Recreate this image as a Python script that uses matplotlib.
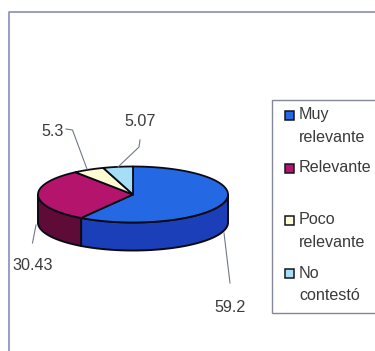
import numpy as np
import matplotlib
matplotlib.use("Agg")
import matplotlib.pyplot as plt
from matplotlib.patches import Polygon, Rectangle

categories = ["Muy\nrelevante", "Relevante", "Poco\nrelevante", "No\ncontestó"]
values = [59.2, 30.43, 5.3, 5.07]
value_labels = ["59.2", "30.43", "5.3", "5.07"]

top_colors = ["#2468E4", "#B4146C", "#FFFBD2", "#A6DEF8"]
side_colors = ["#1A3FB8", "#5E0B38", "#C9C49A", "#7FAFC6"]
text_color = "#3A3A3A"
frame_color = "#9094C4"
leader_color = "#70788A"

CX, CY, RX, RY, DEPTH = 133, 194.5, 95, 28, 28
FS = 11.6
plt.rcParams["font.family"] = ["Liberation Sans", "DejaVu Sans"]

fig = plt.figure(figsize=(3.75, 3.51), dpi=100, facecolor="white")
ax = fig.add_axes([0, 0, 1, 1])
ax.set_xlim(0, 375)
ax.set_ylim(351, 0)
ax.axis("off")


def rim(a0, a1, dy=0.0, n=90):
    t = np.radians(np.linspace(a0, a1, n))
    return np.column_stack([CX + RX * np.sin(t), CY + dy - RY * np.cos(t)])


edges = np.concatenate([[0], np.cumsum(values)]) / np.sum(values) * 360

# walls: only the part of each slice facing the viewer (90-270 deg clockwise from top)
for i in range(len(values)):
    a0, a1 = max(edges[i], 90), min(edges[i + 1], 270)
    if a1 > a0:
        front = rim(a0, a1)
        back = rim(a1, a0, DEPTH)
        ax.add_patch(Polygon(np.vstack([front, back]), closed=True, fc=side_colors[i],
                             ec="#0A0A14", lw=1.4, zorder=2))

# top faces
for i in range(len(values)):
    pts = np.vstack([[[CX, CY]], rim(edges[i], edges[i + 1])])
    ax.add_patch(Polygon(pts, closed=True, fc=top_colors[i], ec="#0A0A14", lw=1.3,
                         joinstyle="round", zorder=3))

# outer frame
ax.plot([375, 8.5, 8.5], [12, 12, 351], color=frame_color, lw=1.3, zorder=1)

# leader lines + value labels
leaders = [
    ([224, 230], [233, 283]),
    ([36, 32.5], [225, 243]),
    ([66, 72.5, 87], [129, 130, 169]),
    ([118, 139, 140], [167, 147, 140]),
]
label_xy = [(230, 307), (33, 265), (53, 132), (140, 122)]
for (lx, ly), txt, (tx, ty) in zip(leaders, value_labels, label_xy):
    ax.plot(lx, ly, color=leader_color, lw=0.8, zorder=4)
    ax.text(tx, ty, txt, ha="center", va="center", fontsize=FS, color=text_color, zorder=5)

# legend
ax.add_patch(Rectangle((272, 100), 110, 213, fc="white", ec="#85879A", lw=1.0, zorder=2))
legend_y = [115, 168, 220, 273]
for cat, col, y in zip(categories, top_colors, legend_y):
    ax.add_patch(Rectangle((284.5, y - 4.5), 9, 9, fc=col, ec="#14141E", lw=1.1, zorder=3))
    for k, line in enumerate(cat.split("\n")):
        ax.text(299, y + k * 22.5, line, ha="left", va="center", fontsize=FS,
                color=text_color, zorder=4)

fig.savefig("out.png", dpi=100, facecolor="white")
